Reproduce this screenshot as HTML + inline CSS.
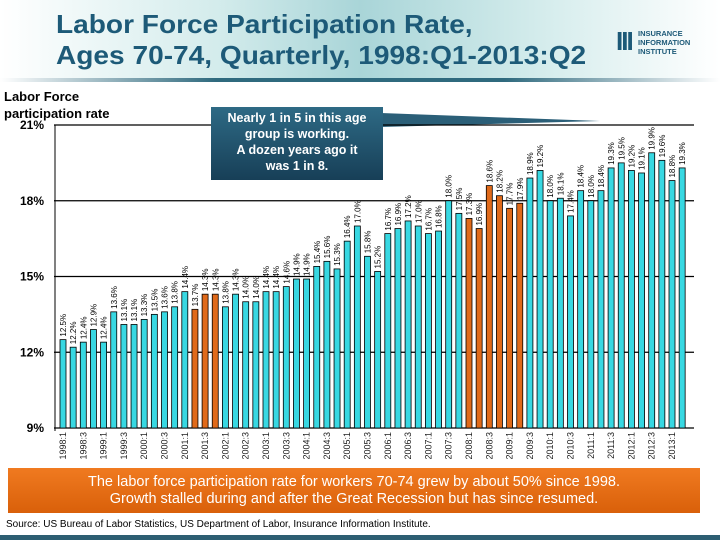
<!DOCTYPE html>
<html><head><meta charset="utf-8"><style>
body{margin:0;width:720px;height:540px;overflow:hidden;background:#fff;font-family:"Liberation Sans",sans-serif;position:relative}
.hdr{position:absolute;left:0;top:0;width:720px;height:80px;background:linear-gradient(90deg,#ffffff 0%,#d4ecec 30%,#a9d5d8 50%,#d4ecec 75%,#ffffff 100%)}
.hline{position:absolute;left:0;top:78px;width:720px;height:4px;background:linear-gradient(90deg,#fff,#2f6a7e 30%,#2f6a7e 70%,#fff)}
.title{position:absolute;left:56px;top:9px;font-size:26px;font-weight:bold;color:#1d5a78;line-height:31px;white-space:nowrap;transform:scaleX(1.08);transform-origin:left}
.logo{position:absolute;left:616px;top:27px;height:30px}
.logo .m{position:absolute;left:0;top:0;font-size:26px;font-weight:bold;color:#1d5a78;line-height:28px;letter-spacing:-2px}
.logo .t{position:absolute;left:22px;top:2px;font-size:7.5px;font-weight:bold;color:#1d5a78;line-height:9px;white-space:nowrap}
.ytitle{position:absolute;left:4px;top:88px;font-size:13px;font-weight:bold;line-height:17px}
.callout{position:absolute;left:211px;top:107px;width:172px;height:73px;background:linear-gradient(#2e6a85,#173f57);color:#fff;font-size:12.5px;font-weight:bold;text-align:center;line-height:16px;padding-top:3px;box-sizing:border-box;white-space:nowrap}
.note{position:absolute;left:8px;top:468px;width:692px;height:45px;background:linear-gradient(#f07a20,#d9600a);color:#fff;font-size:14.5px;text-align:center;line-height:17px;padding-top:6px;box-sizing:border-box}
.src{position:absolute;left:6px;top:519px;font-size:10px}
.foot{position:absolute;left:0;top:535px;width:720px;height:5px;background:#2d5e72}
</style></head><body>
<div class="hdr"></div>
<div class="hline"></div>
<div class="title">Labor Force Participation Rate,<br>Ages 70-74, Quarterly, 1998:Q1-2013:Q2</div>
<div class="logo"><span class="m">III</span><span class="t">INSURANCE<br>INFORMATION<br>INSTITUTE</span></div>
<div class="ytitle">Labor Force<br>participation rate</div>
<svg id="chart" width="720" height="540" style="position:absolute;left:0;top:0"></svg>
<div class="callout">Nearly 1 in 5 in this age<br>group is working.<br>A dozen years ago it<br>was 1 in 8.</div>
<div class="note">The labor force participation rate for workers 70-74 grew by about 50% since 1998.<br>Growth stalled during and after the Great Recession but has since resumed.</div>
<div class="src">Source: US Bureau of Labor Statistics, US Department of Labor, Insurance Information Institute.</div>
<div class="foot"></div>
<script>
const startYear = 1998;
const values = [12.5,12.2,12.4,12.9,12.4,13.6,13.1,13.1,13.3,13.5,13.6,13.8,14.4,13.7,14.3,14.3,13.8,14.3,14.0,14.0,14.4,14.4,14.6,14.9,14.9,15.4,15.6,15.3,16.4,17.0,15.8,15.2,16.7,16.9,17.2,17.0,16.7,16.8,18.0,17.5,17.3,16.9,18.6,18.2,17.7,17.9,18.9,19.2,18.0,18.1,17.4,18.4,18.0,18.4,19.3,19.5,19.2,19.1,19.9,19.6,18.8,19.3];
const recession = [13,14,15,40,41,42,43,44,45];
const yTicks = [9,12,15,18,21];
const NS="http://www.w3.org/2000/svg", svg=document.getElementById('chart');
const x0=63, step=10.15, yBase=428, yTop=125;
const yS=v=>yBase-(v-9)*(yBase-yTop)/12;
const xS=i=>x0+i*step;
function mk(t,a){const e=document.createElementNS(NS,t);for(const k in a)e.setAttribute(k,a[k]);svg.appendChild(e);return e;}
const p=mk('polygon',{points:'380,113 600,121 380,127',fill:'#2b5f78'});


yTicks.forEach(t=>{
  const l=mk('line',{x1:54,x2:694,y1:yS(t),y2:yS(t),stroke:'#000','stroke-width':1.2});
  
  
  const tx=mk('text',{x:44,y:yS(t)+4,'text-anchor':'end','font-size':12,'font-weight':'bold'});
  tx.textContent=t+'%';
  
  
});
const ax=mk('line',{x1:55,x2:55,y1:yTop,y2:yBase+3,stroke:'#000'});


values.forEach((v,i)=>{
  const x=xS(i), y=yS(v);
  const r=mk('rect',{x:x-3,y:y,width:6,height:yBase-y,fill:recession.includes(i)?'#e06a1a':'#38d8e2',stroke:'#000','stroke-width':0.8});
  
  
  const t=mk('text',{x:0,y:0,'font-size':8,transform:`translate(${x+3},${y-3}) rotate(-90)`});
  t.textContent=v.toFixed(1)+'%';
  
  
  if(i%2==0){
    const yr=startYear+Math.floor(i/4), q=(i%4)+1;
    const lt=mk('text',{x:0,y:0,'font-size':9,'text-anchor':'end',fill:'#222',transform:`translate(${x+3},${yBase+4}) rotate(-90)`});
    lt.textContent=yr+':'+q;
    
    
  }
});
</script>
</body></html>
